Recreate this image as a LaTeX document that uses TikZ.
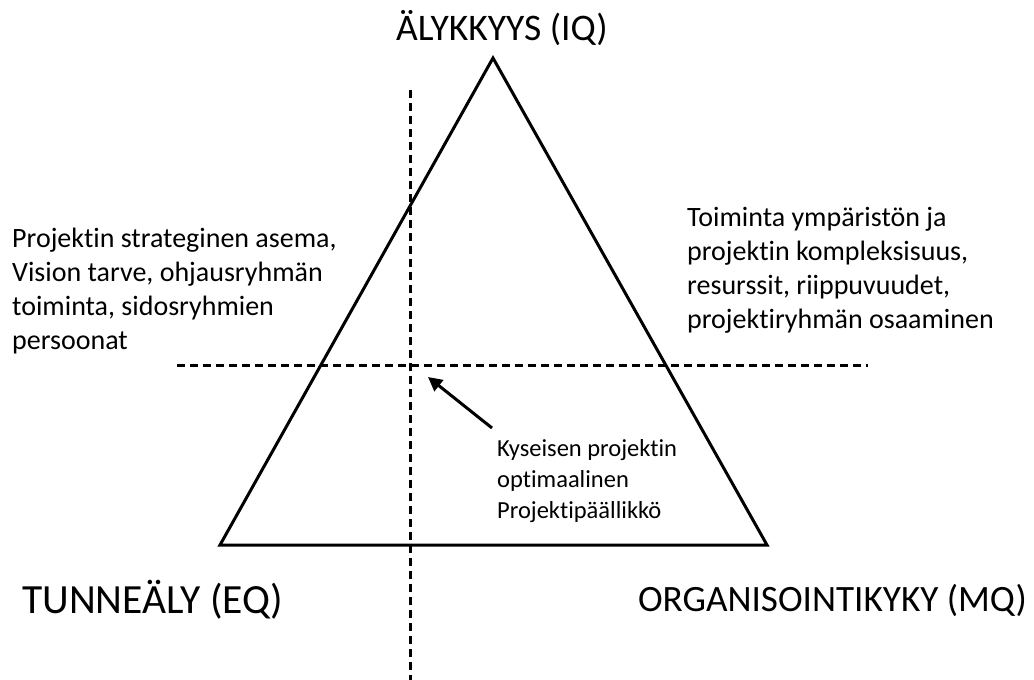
\documentclass[tikz,border=0pt]{standalone}
\usepackage{fontspec}
\setmainfont{Carlito}[Ligatures=NoCommon]
\usetikzlibrary{arrows.meta}
\begin{document}
\begin{tikzpicture}[x=1pt,y=-1pt,
  edge/.style={line width=3pt,line join=miter},
  guide/.style={line width=3pt,dash pattern=on 8pt off 5pt},
  corner/.style={font=\fontsize{37.5}{44}\selectfont,inner sep=0pt},
  notes/.style={font=\fontsize{28}{34}\selectfont,align=left,inner sep=0pt,anchor=north west},
  small/.style={font=\fontsize{24.5}{31}\selectfont,align=left,inner sep=0pt,anchor=north west}]
\useasboundingbox (0,0) rectangle (1034,680);
% dashed cross-hair guides
\coordinate (vtop) at (410,90);
\coordinate (vbot) at (410,680);
\coordinate (hl) at (177,365);
\coordinate (hr) at (868,365);
\draw[guide] (vtop) -- (vbot);
\draw[guide] (hl) -- (hr);
% triangle
\coordinate (apex) at (493,58);
\coordinate (bl) at (220,545);
\coordinate (br) at (767,545);
\draw[edge] (apex) -- (bl) -- (br) -- cycle;
% corner labels
\node[corner] (iq) at (502,28) {ÄLYKKYYS (IQ)};
\node[corner,anchor=west,font=\fontsize{41.5}{48}\selectfont] (eq) at (22,600) {TUNNEÄLY (EQ)};
\node[corner,anchor=east,font=\fontsize{37.2}{44}\selectfont] (mq) at (1027,600) {ORGANISOINTIKYKY (MQ)};
% side notes
\node[notes] (left) at (12,228) {Projektin strateginen asema,\\Vision tarve, ohjausryhmän\\toiminta, sidosryhmien\\persoonat};
\node[notes] (right) at (687,207) {Toiminta ympäristön ja\\projektin kompleksisuus,\\resurssit, riippuvuudet,\\projektiryhmän osaaminen};
% optimum marker
\node[small] (opt) at (497,439) {Kyseisen projektin\\optimaalinen\\Projektipäällikkö};
\coordinate (cross) at (428,377);
\coordinate (tail) at (492,428);
\draw[line width=3pt,-{Stealth[length=14pt,width=14pt,inset=0pt]}] (tail) -- (cross);
\end{tikzpicture}
\end{document}
